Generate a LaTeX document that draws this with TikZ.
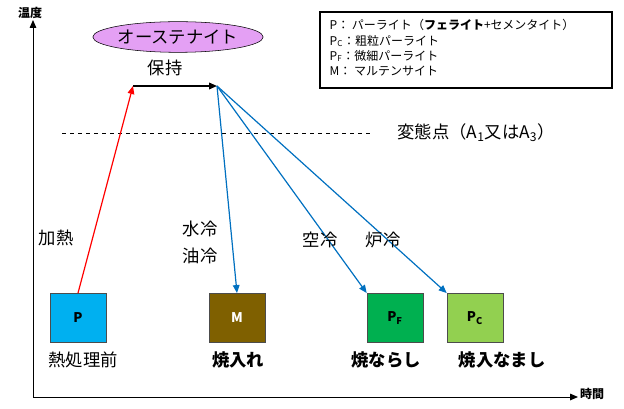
\documentclass[tikz,border=0pt]{standalone}
\usepackage{fontspec}
\setmainfont{Noto Sans CJK JP}
\usetikzlibrary{arrows.meta,shapes.geometric}
\definecolor{cP}{HTML}{00B0F0}
\definecolor{cM}{HTML}{7F6000}
\definecolor{cF}{HTML}{00B050}
\definecolor{cC}{HTML}{92D050}
\definecolor{cB}{HTML}{0070C0}
\definecolor{cE}{HTML}{E4A0F4}
\begin{document}
\begin{tikzpicture}[x=0.75pt,y=-0.75pt,
 box/.style={draw=black!70,minimum width=42pt,minimum height=37pt,inner sep=0pt,font=\bfseries\fontsize{10}{12}\selectfont},
 big/.style={font=\fontsize{13}{15}\selectfont},
 bigb/.style={font=\bfseries\fontsize{13}{15}\selectfont},
 arr/.style={-{Triangle[length=6pt,width=5pt]},line width=0.9pt}]
\useasboundingbox (0,0) rectangle (624,409);
\coordinate (o) at (33,397);
\coordinate (yt) at (33,20);
\coordinate (xt) at (578,397);
\draw[arr,line width=0.7pt] (o) -- (yt);
\draw[arr,line width=0.7pt] (o) -- (xt);
\node[font=\bfseries\fontsize{9}{10}\selectfont] (ylab) at (30,13) {温度};
\node[font=\bfseries\fontsize{9}{10}\selectfont] (xlab) at (592,394) {時間};
\node[ellipse,draw=black,fill=cE,minimum width=125pt,minimum height=23pt,inner sep=0pt,big] (aus) at (178,37) {オーステナイト};
\node[big] (hold) at (165,68) {保持};
\coordinate (h1) at (133,86);
\coordinate (h2) at (217,86);
\draw[arr,line width=1.1pt] (h1) -- (h2);
\coordinate (d1) at (62,133); \coordinate (d2) at (372,133);
\draw[dashed] (d1) -- (d2);
\node[big] (tp) at (476,133) {変態点（A\textsubscript{1}又はA\textsubscript{3}）};
\node[box,fill=cP] (P) at (78,318) {P};
\node[box,fill=cM,text=white] (M) at (237,318) {M};
\node[box,fill=cF] (PF) at (395,318) {P\textsubscript{F}};
\node[box,fill=cC] (PC) at (475,318) {P\textsubscript{C}};
\draw[arr,red] (P.north) -- (h1);
\draw[arr,cB] (h2) -- (M.north);
\draw[arr,cB] (h2) -- (PF.north west);
\draw[arr,cB] (h2) -- (PC.north west);
\node[big] (heat) at (56,238) {加熱};
\node[big] (wc) at (200,229) {水冷};
\node[big] (oc) at (200,256) {油冷};
\node[big] (ac) at (320,240) {空冷};
\node[big] (fc) at (383,240) {炉冷};
\node[big] (l1) at (83,360) {熱処理前};
\node[bigb] (l2) at (238,360) {焼入れ};
\node[bigb] (l3) at (386,360) {焼ならし};
\node[bigb] (l4) at (502,360) {焼入なまし};
\node[draw,thick,minimum width=219pt,minimum height=57pt,inner sep=0pt] (leg) at (466,50) {};
\node[anchor=north west,align=left,font=\fontsize{9}{11.3}\selectfont] (legt) at (325,15) {P：\ パーライト（\textbf{フェライト}+セメンタイト）\\P\textsubscript{C}：粗粒パーライト\\P\textsubscript{F}：微細パーライト\\M：\ マルテンサイト};
\end{tikzpicture}
\end{document}
